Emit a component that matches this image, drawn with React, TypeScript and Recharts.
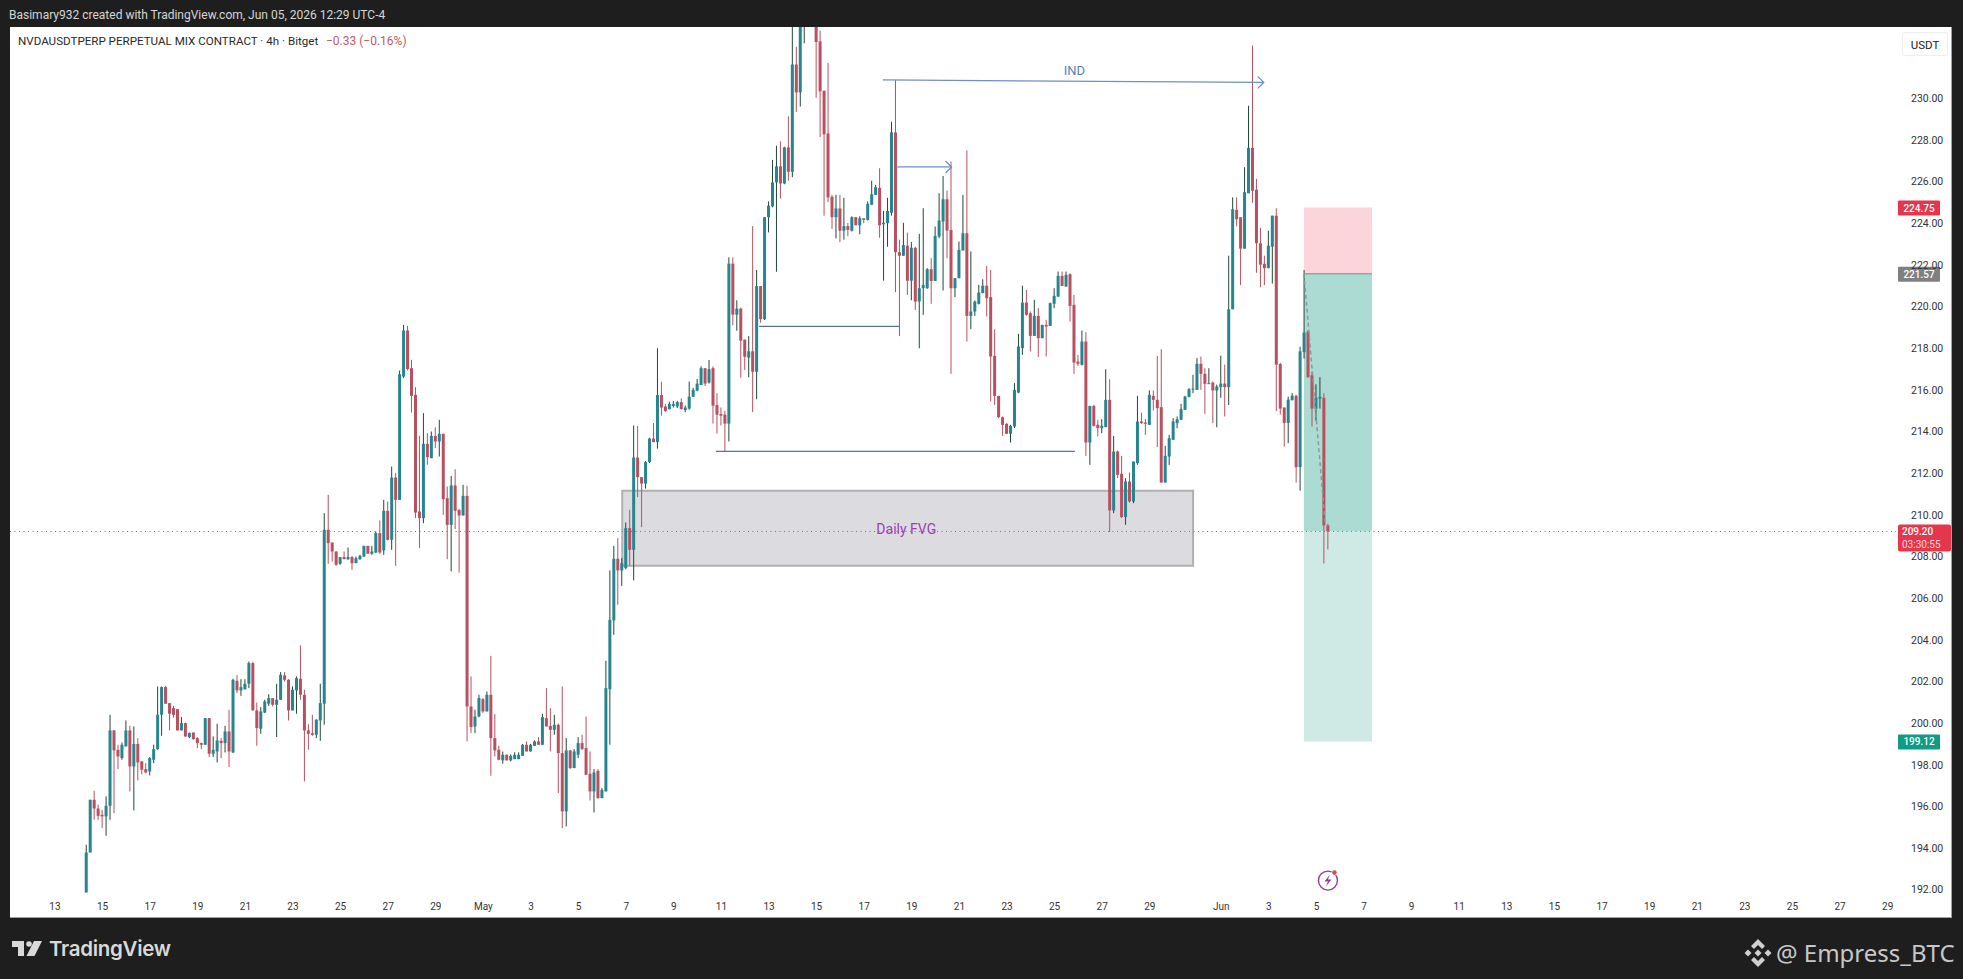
import React from "react";
import { ComposedChart, Bar, XAxis, YAxis, ReferenceArea, ReferenceLine, ReferenceDot } from "recharts";

// 4h candles, first one is index 8 (Apr 14 08:00); index 0 = Apr 13 00:00
const firstIndex = 8;
const opens = [
191.87,193.79,196.32,195.90,195.60,195.52,196.03,199.65,198.72,198.32,
198.88,199.65,197.92,199.00,198.16,197.79,197.68,198.24,198.75,200.40,
201.73,200.96,200.72,200.67,199.65,200.00,199.33,199.55,199.28,199.04,
198.96,200.24,198.53,198.64,199.15,199.04,199.60,198.59,202.03,201.57,
201.63,201.89,202.88,200.61,199.73,200.51,200.93,201.20,200.88,201.12,
202.29,202.08,200.61,201.57,202.13,201.36,199.65,199.52,199.44,200.13,
200.93,209.28,208.67,208.24,207.65,207.97,207.87,207.97,207.68,207.87,
208.00,208.51,208.13,208.19,209.12,208.29,210.19,208.80,211.79,210.72,
216.64,218.85,217.04,215.76,210.16,209.84,213.41,212.72,213.79,213.52,
213.89,210.80,209.52,211.41,210.24,209.97,210.91,200.80,199.84,200.32,
201.15,200.56,201.36,199.28,198.72,198.21,198.48,198.21,198.27,198.27,
198.43,198.96,198.64,198.91,199.12,198.96,200.24,199.87,199.68,199.92,
198.56,195.76,198.69,197.84,198.48,199.04,198.80,197.57,196.72,197.71,
196.40,196.72,201.63,204.93,207.89,207.33,207.44,209.36,208.32,212.75,
211.81,211.50,212.53,213.66,213.49,215.75,215.20,215.07,215.23,215.20,
215.41,215.03,215.10,215.67,215.96,216.23,217.04,216.35,217.04,215.27,
214.84,214.81,214.38,222.06,219.61,219.90,218.41,217.55,217.85,216.87,
220.98,219.39,224.29,224.81,225.96,226.73,225.91,227.64,226.47,231.62,
230.28,235.00,235.50,236.50,235.30,232.73,230.36,228.31,225.27,224.29,
224.71,223.64,223.86,223.64,224.29,223.90,224.24,224.16,224.89,225.36,
225.70,223.95,224.00,224.50,228.36,222.61,222.44,222.92,221.24,222.82,
220.24,220.88,220.88,221.79,221.23,223.36,224.08,225.15,223.68,220.88,
221.36,222.69,223.52,219.55,219.76,220.13,220.64,221.00,220.45,217.63,
215.71,214.69,214.37,213.89,214.24,215.87,218.00,220.19,219.68,218.59,
219.55,218.48,219.12,219.07,220.13,220.48,221.47,220.96,221.55,220.08,
217.36,217.20,218.32,213.47,215.23,214.32,214.16,214.21,215.52,210.21,
213.04,211.97,209.89,211.60,210.64,212.48,214.48,214.43,214.32,215.71,
215.52,215.17,211.55,212.80,213.60,214.40,214.56,215.04,215.65,216.03,
216.00,217.25,216.77,216.29,216.35,215.97,216.13,216.30,216.13,219.87,
224.64,224.29,222.78,225.44,227.62,225.61,223.04,222.05,221.84,222.87,
224.36,217.24,215.15,214.41,215.50,215.72,212.29,217.81,218.80,216.70,
215.10,215.58,215.62,209.49];
const closes = [
193.79,196.32,195.90,195.55,195.52,196.03,199.65,198.69,198.40,198.96,
199.65,197.92,199.00,198.11,197.76,197.63,198.32,198.75,200.40,201.73,
200.93,200.45,200.40,199.65,200.00,199.36,199.52,199.23,199.04,198.96,
200.24,198.53,198.72,199.17,199.04,199.60,198.64,202.08,201.57,201.73,
201.89,202.88,200.61,199.76,200.56,201.04,201.20,200.88,201.12,202.32,
202.08,200.61,201.60,202.16,201.36,199.65,199.49,199.44,200.16,200.96,
209.28,208.64,208.24,207.60,207.97,207.87,207.97,207.68,207.92,208.03,
208.51,208.13,208.24,209.12,208.19,210.19,208.80,211.79,210.72,216.75,
218.85,217.00,215.71,210.11,209.84,213.41,212.77,213.79,213.52,213.89,
210.75,209.52,211.41,210.19,209.97,210.91,200.80,199.81,200.32,201.20,
200.56,201.36,199.28,198.69,198.24,198.48,198.21,198.43,198.48,198.48,
198.96,198.64,198.96,199.12,198.96,200.29,199.84,199.68,199.92,198.56,
195.76,198.69,197.84,198.64,199.04,198.75,197.52,196.72,197.63,196.40,
196.80,201.68,204.96,207.89,207.33,207.68,209.36,208.32,212.75,211.81,
211.50,212.53,213.66,213.49,215.75,215.15,214.98,215.32,215.32,215.41,
215.07,215.15,215.67,216.00,216.30,217.04,216.30,216.99,215.24,214.81,
214.76,214.38,222.06,219.61,219.90,218.36,217.59,217.85,216.87,220.98,
219.39,224.29,224.84,225.96,226.73,225.91,227.64,226.47,231.62,230.28,
235.00,236.00,236.50,235.50,232.70,230.33,228.27,225.24,224.29,224.71,
223.64,223.86,223.68,224.29,223.90,224.24,224.16,224.93,225.39,225.73,
223.90,224.02,224.59,228.36,222.61,222.44,222.95,221.24,222.82,220.24,
220.88,221.04,221.79,221.23,223.39,224.13,225.15,223.65,220.88,221.36,
222.72,223.52,219.55,219.76,220.24,220.67,221.00,220.40,217.60,215.71,
214.69,214.32,213.89,214.27,216.00,218.08,220.19,219.60,218.59,219.55,
218.48,219.12,219.04,220.16,220.51,221.47,220.99,221.52,220.03,217.31,
217.25,218.32,213.47,215.23,214.27,214.16,214.27,215.52,210.21,213.04,
211.92,209.89,211.60,210.64,212.56,214.48,214.40,214.37,215.76,215.52,
215.12,211.55,212.83,213.68,214.48,214.59,215.07,215.68,216.03,216.06,
217.25,216.77,216.29,216.32,215.97,216.16,216.30,216.13,219.87,224.67,
224.19,222.78,225.49,227.62,225.56,223.04,222.01,221.84,222.92,224.36,
217.21,215.10,214.41,215.53,215.72,212.29,217.85,218.75,216.61,215.10,
215.62,215.67,209.49,209.20];
const highs = [
194.16,196.32,196.75,196.08,195.84,196.48,200.40,199.65,198.96,199.07,
200.13,199.87,199.84,199.28,198.19,198.08,198.37,198.96,201.76,201.76,
201.79,200.96,200.83,200.67,200.29,200.03,199.55,199.55,199.33,199.07,
200.24,200.24,199.36,199.97,199.28,199.87,200.64,202.13,202.30,202.11,
202.11,202.96,202.94,200.99,200.77,201.12,201.39,201.20,201.89,202.45,
202.45,202.11,201.76,202.24,203.73,201.60,199.95,200.40,200.19,201.89,
210.08,210.96,208.67,208.24,207.97,208.24,208.43,208.03,208.00,208.08,
208.51,208.51,208.51,209.20,209.73,210.72,210.64,212.32,212.00,216.93,
219.12,219.07,217.44,216.13,213.79,214.88,213.92,214.00,214.20,214.56,
213.89,211.36,211.87,212.19,210.27,211.44,211.39,202.24,200.64,201.36,
201.20,201.52,203.23,200.43,198.91,198.64,198.50,198.50,198.60,198.60,
199.00,199.12,199.00,199.17,199.33,200.45,201.68,200.72,200.40,199.98,
201.76,199.28,198.72,198.75,199.33,199.44,200.32,198.64,197.79,197.79,
196.88,202.99,207.33,208.51,208.88,207.92,209.63,210.24,214.29,214.26,
211.81,212.58,213.70,214.41,218.00,216.39,215.32,215.43,215.47,215.47,
215.59,215.25,216.40,216.10,216.52,217.13,217.04,217.43,217.13,215.84,
215.15,214.99,222.36,222.36,220.30,219.95,218.41,218.58,223.86,221.76,
220.98,224.29,225.05,227.04,227.72,227.93,227.67,229.13,234.00,232.47,
236.00,237.00,237.00,237.00,236.50,233.25,230.36,231.70,225.36,225.36,
225.36,225.22,224.01,224.33,224.29,224.33,224.21,225.05,226.04,225.84,
226.64,224.59,225.22,228.87,230.88,223.21,224.02,223.55,223.10,222.87,
223.49,224.72,221.84,222.32,223.84,225.44,226.27,225.57,226.96,221.36,
223.12,225.36,227.49,222.64,220.29,221.04,221.31,221.95,221.76,218.91,
215.71,214.72,214.40,214.32,216.32,218.69,221.00,220.80,219.76,220.32,
219.92,219.12,219.36,220.19,220.88,221.68,221.68,221.68,221.60,220.56,
217.68,218.85,218.77,215.23,215.28,214.56,214.59,216.99,216.51,213.79,
213.09,212.83,211.76,212.03,212.56,215.71,214.91,214.60,215.97,215.97,
217.63,217.95,213.31,213.84,214.64,214.72,215.33,215.71,216.08,216.72,
217.52,217.60,217.04,217.04,216.40,216.25,217.64,217.21,222.44,225.24,
225.24,222.90,226.69,229.64,232.53,226.13,223.78,222.44,223.64,224.36,
224.72,217.30,215.15,215.67,215.84,215.75,218.07,221.75,218.87,216.87,
216.27,216.61,215.84,209.58];
const lows = [
191.87,193.79,195.36,195.36,194.96,194.59,195.36,195.68,197.79,198.24,
198.88,196.72,195.81,197.25,197.54,197.60,197.49,198.08,198.72,199.39,
200.93,199.65,200.26,199.65,199.65,199.33,199.28,199.20,198.80,198.75,
198.96,198.37,198.37,198.11,198.32,198.59,197.89,198.56,201.44,201.31,
201.60,201.68,200.61,198.91,199.49,200.48,200.83,200.80,199.33,201.12,
202.00,200.13,200.61,200.45,201.12,197.20,198.72,199.39,199.28,199.15,
199.92,207.65,207.76,207.55,207.60,207.87,207.84,207.36,207.68,207.84,
207.97,208.13,208.08,208.16,208.13,208.08,208.77,208.32,207.55,210.72,
216.56,216.93,214.91,209.84,208.40,209.60,212.40,212.72,213.20,212.80,
210.00,207.87,207.28,209.31,207.23,209.97,199.12,199.52,199.52,200.28,
200.48,200.56,197.47,198.40,198.21,198.05,198.21,198.16,198.27,198.27,
198.43,198.64,198.64,198.91,198.96,198.96,199.84,198.64,199.44,196.64,
194.96,195.04,197.79,197.84,198.32,198.72,197.52,196.29,195.71,196.37,
196.40,196.72,198.96,204.24,205.68,206.59,207.39,207.55,206.85,210.86,
209.41,211.26,212.49,213.49,213.18,214.76,214.95,215.07,215.15,215.13,
215.07,214.93,215.05,215.67,215.93,216.23,216.18,216.30,214.38,213.90,
214.29,213.05,213.52,219.10,218.84,216.58,216.95,216.61,214.93,215.55,
219.22,219.35,223.56,224.76,221.67,225.18,225.87,226.04,226.21,229.34,
229.60,232.64,234.00,234.50,230.02,228.13,224.36,225.01,223.73,223.27,
223.09,223.21,223.38,223.60,223.90,223.47,224.00,224.13,224.87,225.36,
223.30,221.24,222.87,224.37,220.69,218.58,222.44,220.55,220.30,219.83,
218.00,219.60,220.85,220.13,221.23,223.28,220.77,222.32,216.77,220.45,
221.36,222.69,218.32,218.91,219.55,220.10,220.64,219.52,215.44,215.28,
214.64,213.79,213.89,213.47,214.17,215.84,217.68,219.56,217.84,218.59,
217.57,218.48,217.60,219.07,219.92,220.45,220.99,220.96,219.28,216.77,
217.15,217.17,212.83,212.40,214.24,213.76,213.92,214.21,209.17,210.08,
211.76,209.85,209.52,210.59,210.56,212.40,214.37,213.84,214.32,215.01,
213.25,211.55,211.55,212.40,213.60,214.16,214.56,215.04,215.65,215.84,
216.00,216.00,214.85,216.29,214.40,214.20,215.62,214.72,215.27,219.87,
223.85,221.03,222.78,225.44,224.98,221.62,220.93,221.03,221.84,221.10,
214.98,214.81,213.27,213.44,215.50,211.55,211.16,217.50,216.58,214.24,
214.52,215.10,207.66,208.34];

const tickIndices = [0,12,24,36,48,60,72,84,96,108,120,132,144,156,168,180,192,204,216,228,240,252,264,276,294,306,318,330,342,354,366,378,390,402,414,426,438,450,462];
const tickLabels = ["13","15","17","19","21","23","25","27","29","May","3","5","7","9","11","13","15","17","19","21","23","25","27","29","Jun","3","5","7","9","11","13","15","17","19","21","23","25","27","29"];
const priceTicks = [192,194,196,198,200,202,204,206,208,210,212,214,216,218,220,222,224,226,228,230];

const stopPrice = 224.75;
const entryPrice = 221.57;
const lastPrice = 209.2;
const targetPrice = 199.12;
const countdown = "03:30:55";

const rows = opens.map((open, k) => ({
  t: firstIndex + k,
  open,
  close: closes[k],
  high: highs[k],
  low: lows[k],
  range: [lows[k], highs[k]],
}));

const UP = "#26858f";
const DOWN = "#b9505f";
const UP_WICK = "#1f4a38";
const LINE_BLUE = "#2f4f8f";
const ARROW_BLUE = "#6d8fca";

const Candle = (props: any) => {
  const { x, y, width, height, payload } = props;
  const { open, close, high, low } = payload;
  const perUnit = height / (high - low);
  const yOf = (v: number) => y + (high - v) * perUnit;
  const up = close >= open;
  const cx = x + width / 2;
  const top = yOf(Math.max(open, close));
  const bot = yOf(Math.min(open, close));
  return (
    <g>
      <line x1={cx} x2={cx} y1={y} y2={y + height} stroke={up ? UP_WICK : DOWN} strokeWidth={1} />
      <rect x={x} y={top} width={width} height={Math.max(bot - top, 1)} fill={up ? UP : DOWN} />
    </g>
  );
};

const Chevron = (props: any) => {
  const { cx, cy } = props;
  return <polyline points={`${cx - 6},${cy - 6} ${cx},${cy} ${cx - 6},${cy + 6}`} fill="none" stroke={ARROW_BLUE} strokeWidth={1.3} />;
};

const textShape = (label: string, color: string, size: number) => (props: any) => (
  <text x={props.cx} y={props.cy} textAnchor="middle" dominantBaseline="central" fill={color} fontSize={size} fontFamily="Roboto, sans-serif">
    {label}
  </text>
);

const badgeShape = (label: string, bg: string) => (props: any) => (
  <g>
    <rect x={props.cx + 2} y={props.cy - 7} width={42} height={15} fill={bg} rx={1} />
    <text x={props.cx + 23} y={props.cy + 0.5} textAnchor="middle" dominantBaseline="central" fill="#fff" fontSize={10} fontWeight={500} fontFamily="Roboto, sans-serif">
      {label}
    </text>
  </g>
);

const lastBadge = (props: any) => (
  <g>
    <rect x={props.cx + 2} y={props.cy - 7} width={53} height={27} fill="#e5364b" rx={2} />
    <text x={props.cx + 6} y={props.cy} dominantBaseline="central" fill="#fff" fontSize={10} fontWeight={500} fontFamily="Roboto, sans-serif">
      {lastPrice.toFixed(2)}
    </text>
    <text x={props.cx + 6} y={props.cy + 13} dominantBaseline="central" fill="#fbd5da" fontSize={10} fontFamily="Roboto, sans-serif">
      {countdown}
    </text>
  </g>
);

const BoltIcon = (props: any) => {
  const { cx, cy } = props;
  return (
    <g>
      <circle cx={cx} cy={cy} r={9.5} fill="none" stroke="#8e3f9e" strokeWidth={1.4} />
      <path d={`M${cx + 2},${cy - 6} L${cx - 3.5},${cy + 1} L${cx},${cy + 1} L${cx - 2},${cy + 6} L${cx + 3.5},${cy - 1} L${cx},${cy - 1} Z`} fill="#8e3f9e" />
      <circle cx={cx + 6.5} cy={cy - 8} r={3} fill="#fff" />
      <circle cx={cx + 6.5} cy={cy - 8} r={2.3} fill="#d64a58" />
    </g>
  );
};

export default function App() {
  return (
    <div style={{ position: "absolute", left: 0, top: 0, width: 1963, height: 979, background: "#1e1e1e", overflow: "hidden" }}>
      <div style={{ position: "absolute", left: 10, top: 27, width: 1942, height: 891, background: "#fff", boxSizing: "border-box", borderBottom: "1px solid #a0a0a0", borderRight: "1px solid #a0a0a0" }} />
      <div style={{ position: "absolute", left: 9, top: 8, color: "#d6d6d6", fontFamily: "Roboto, sans-serif", fontSize: 12, lineHeight: "15px", whiteSpace: "nowrap" }}>
        Basimary932 created with TradingView.com, Jun 05, 2026 12:29 UTC-4
      </div>
      <div style={{ position: "absolute", left: 18, top: 34, color: "#2a2a2a", fontFamily: "Roboto, sans-serif", fontSize: 11.6, lineHeight: "15px", whiteSpace: "nowrap" }}>
        NVDAUSDTPERP PERPETUAL MIX CONTRACT · 4h · Bitget
      </div>
      <div style={{ position: "absolute", left: 326, top: 34, color: "#c0596a", fontFamily: "Roboto, sans-serif", fontSize: 12, lineHeight: "15px", whiteSpace: "nowrap" }}>
        −0.33 (−0.16%)
      </div>
      <div style={{ position: "absolute", left: 1902, top: 32, width: 46, height: 24, lineHeight: "24px", textAlign: "center", background: "#fff", border: "1px solid #eeeeee", borderRadius: 3, boxSizing: "border-box", color: "#222", fontFamily: "Roboto, sans-serif", fontSize: 11.5 }}>
        USDT
      </div>

      <div style={{ position: "absolute", left: 0, top: 0 }}>
        <ComposedChart width={1963} height={979} data={rows} margin={{ top: 27, left: 10, right: 0, bottom: 61 }} barCategoryGap={0}>
          <XAxis
            dataKey="t"
            type="number"
            domain={[-11.34, 464.1]}
            allowDataOverflow
            ticks={tickIndices}
            interval={0}
            height={22}
            axisLine={false}
            tickLine={false}
            tickMargin={1}
            tick={{ fill: "#333", fontSize: 10, fontFamily: "Roboto, sans-serif" }}
            tickFormatter={(v: number) => tickLabels[tickIndices.indexOf(v)]}
          />
          <YAxis
            orientation="right"
            width={67}
            type="number"
            domain={[191.7, 233.42]}
            allowDataOverflow
            ticks={priceTicks}
            interval={0}
            axisLine={false}
            tickLine={false}
            tickMargin={9}
            tick={{ fill: "#333", fontSize: 10.5, fontFamily: "Roboto, sans-serif" }}
            tickFormatter={(v: number) => v.toFixed(2)}
          />

          <ReferenceArea x1={143} x2={286.9} y1={207.56} y2={211.16} fill="#dcdce0" fillOpacity={1} stroke="#b0b0b0" strokeWidth={2} />
          <ReferenceArea x1={314.85} x2={332} y1={entryPrice} y2={stopPrice} fill="#fbd5d9" fillOpacity={1} stroke="none" />
          <ReferenceArea x1={314.85} x2={332} y1={lastPrice} y2={entryPrice} fill="#abdbd2" fillOpacity={1} stroke="none" />
          <ReferenceArea x1={314.85} x2={332} y1={targetPrice} y2={lastPrice} fill="#cfeae5" fillOpacity={1} stroke="none" />
          <ReferenceLine segment={[{ x: 314.85, y: entryPrice }, { x: 332, y: entryPrice }]} stroke="#6e8f87" strokeWidth={1} />
          <ReferenceLine segment={[{ x: 314.85, y: entryPrice }, { x: 320.2, y: 209.61 }]} stroke="#7f9f98" strokeWidth={1.5} strokeDasharray="4 3" />

          <ReferenceLine segment={[{ x: -11.34, y: lastPrice }, { x: 464.1, y: lastPrice }]} stroke="#777" strokeDasharray="1 3.5" strokeWidth={1.2} />

          <Bar dataKey="range" barSize={3} isAnimationActive={false} shape={<Candle />} />

          <ReferenceLine segment={[{ x: 208.7, y: 230.88 }, { x: 304.7, y: 230.76 }]} stroke={ARROW_BLUE} strokeWidth={1.2} />
          <ReferenceDot x={304.7} y={230.76} r={0} shape={<Chevron />} ifOverflow="visible" />
          <ReferenceLine segment={[{ x: 212.3, y: 226.7 }, { x: 226, y: 226.7 }]} stroke={ARROW_BLUE} strokeWidth={1.2} />
          <ReferenceDot x={226} y={226.7} r={0} shape={<Chevron />} ifOverflow="visible" />
          <ReferenceLine segment={[{ x: 177.5, y: 219.05 }, { x: 212.8, y: 219.05 }]} stroke={LINE_BLUE} strokeWidth={1} />
          <ReferenceLine segment={[{ x: 166.6, y: 213.05 }, { x: 257.1, y: 213.05 }]} stroke={LINE_BLUE} strokeWidth={1} />

          <ReferenceDot x={257} y={231.35} r={0} shape={textShape("IND", "#5b7fbd", 13)} ifOverflow="visible" />
          <ReferenceDot x={214.6} y={209.33} r={0} shape={textShape("Daily FVG", "#9c3fb5", 14)} ifOverflow="visible" />
          <ReferenceDot x={320.9} y={192.44} r={0} shape={<BoltIcon />} ifOverflow="visible" />

          <ReferenceDot x={464.1} y={stopPrice} r={0} shape={badgeShape(stopPrice.toFixed(2), "#e5364b")} ifOverflow="visible" />
          <ReferenceDot x={464.1} y={entryPrice} r={0} shape={badgeShape(entryPrice.toFixed(2), "#808080")} ifOverflow="visible" />
          <ReferenceDot x={464.1} y={targetPrice} r={0} shape={badgeShape(targetPrice.toFixed(2), "#0f9b84")} ifOverflow="visible" />
          <ReferenceDot x={464.1} y={lastPrice} r={0} shape={lastBadge} ifOverflow="visible" />
        </ComposedChart>
      </div>

      <svg style={{ position: "absolute", left: 12, top: 941 }} width={32} height={16} viewBox="0 0 32 16">
        <path d="M0 0H12V15H6V6H0Z" fill="#d9d9d9" />
        <circle cx="17" cy="3" r="2.8" fill="#d9d9d9" />
        <path d="M22 0H30L22.5 15H14.5Z" fill="#d9d9d9" />
      </svg>
      <div style={{ position: "absolute", left: 49, top: 935, color: "#d9d9d9", fontFamily: "Inter, sans-serif", fontWeight: 600, fontSize: 20.5, lineHeight: "28px", letterSpacing: "-0.3px", whiteSpace: "nowrap" }}>
        TradingView
      </div>

      <svg style={{ position: "absolute", left: 1744, top: 939 }} width={28} height={28} viewBox="0 0 28 28">
        <g fill="#d0d0d0">
          <path d="M14 0 L21 7 L18 10 L14 6 L10 10 L7 7 Z" />
          <path d="M14 28 L21 21 L18 18 L14 22 L10 18 L7 21 Z" />
          <path d="M14 10.5 L17.5 14 L14 17.5 L10.5 14 Z" />
          <path d="M4 10.5 L7.5 14 L4 17.5 L0.5 14 Z" />
          <path d="M24 10.5 L27.5 14 L24 17.5 L20.5 14 Z" />
        </g>
      </svg>
      <div style={{ position: "absolute", left: 1776, top: 936, color: "#c8c8c8", fontFamily: "'Noto Sans', sans-serif", fontSize: 24, lineHeight: "34px", whiteSpace: "nowrap" }}>
        @ Empress_BTC
      </div>
    </div>
  );
}
